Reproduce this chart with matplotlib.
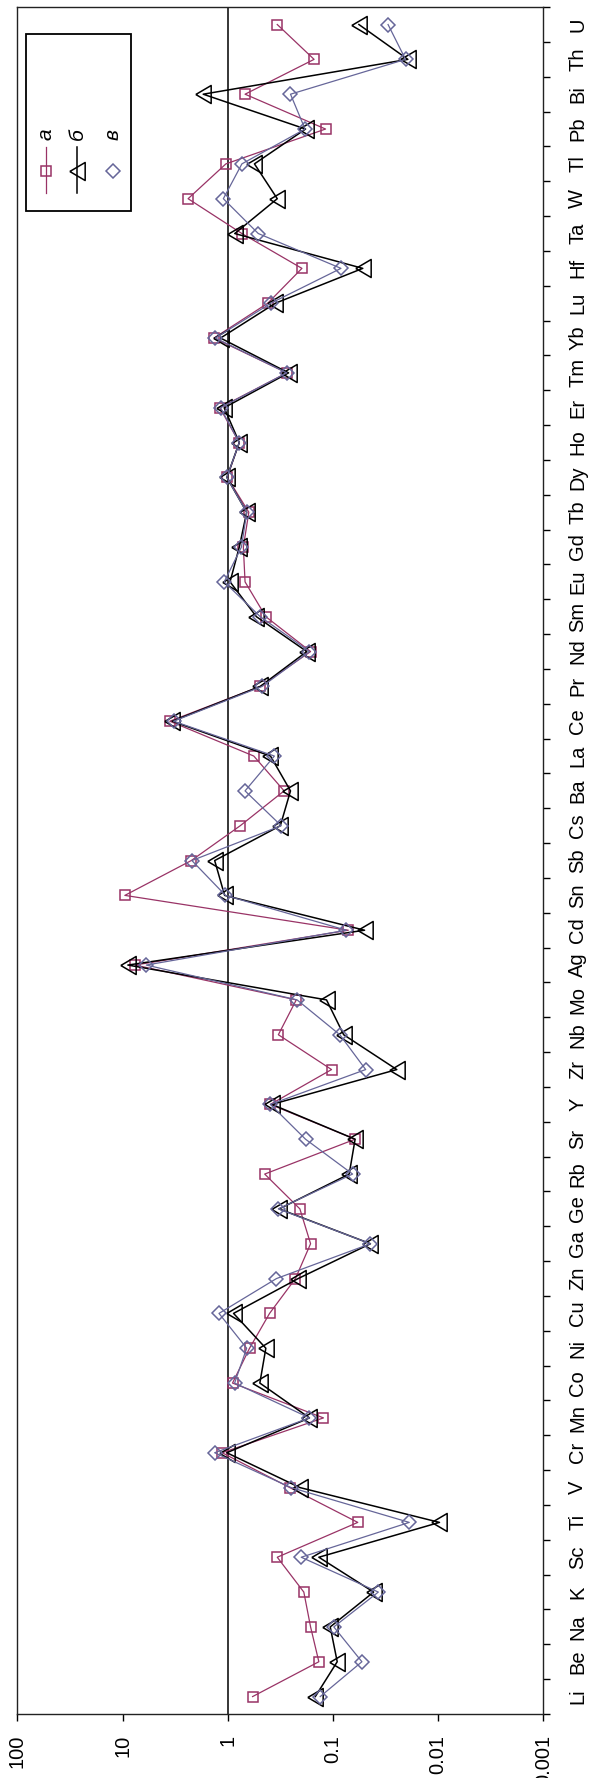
import numpy as np
import matplotlib
matplotlib.use("Agg")
from matplotlib import pyplot as plt
from matplotlib.patches import Rectangle
from matplotlib.lines import Line2D

plt.rcParams['font.family'] = ['Liberation Sans', 'DejaVu Sans']

###########################################################################
# data : normalised concentrations per element
###########################################################################

elements = ['Li','Be','Na','K','Sc','Ti','V','Cr','Mn','Co',
            'Ni','Cu','Zn','Ga','Ge','Rb','Sr','Y','Zr','Nb',
            'Mo','Ag','Cd','Sn','Sb','Cs','Ba','La','Ce','Pr',
            'Nd','Sm','Eu','Gd','Tb','Dy','Ho','Er','Tm','Yb',
            'Lu','Hf','Ta','W','Tl','Pb','Bi','Th','U']

series_a = [0.58, 0.136, 0.163, 0.189, 0.338, 0.058, 0.257, 1.13, 0.123, 0.90,
            0.62, 0.40, 0.227, 0.163, 0.206, 0.445, 0.0615, 0.393, 0.103, 0.33,
            0.223, 7.6, 0.0714, 9.5, 2.22, 0.76, 0.291, 0.565, 3.55, 0.49,
            0.163, 0.434, 0.684, 0.71, 0.63, 1.01, 0.776, 1.19, 0.274, 1.35,
            0.416, 0.197, 0.733, 2.38, 1.04, 0.1175, 0.684, 0.151, 0.338]

series_b = [0.147, 0.091, 0.106, 0.041, 0.136, 0.0097, 0.206, 1.02, 0.167, 0.495,
            0.434, 0.88, 0.214, 0.044, 0.324, 0.070, 0.0615, 0.38, 0.0247, 0.079,
            0.115, 8.9, 0.05, 1.07, 1.33, 0.316, 0.253, 0.392, 3.37, 0.49,
            0.177, 0.533, 0.95, 0.776, 0.66, 1.02, 0.776, 1.08, 0.264, 1.17,
            0.352, 0.052, 0.857, 0.338, 0.557, 0.182, 1.71, 0.0194, 0.0566]

series_c = [0.132, 0.053, 0.098, 0.037, 0.2, 0.0188, 0.25, 1.33, 0.167, 0.86,
            0.66, 1.21, 0.344, 0.044, 0.33, 0.065, 0.182, 0.393, 0.0488, 0.086,
            0.219, 5.94, 0.0745, 1.05, 2.19, 0.31, 0.684, 0.36, 3.27, 0.47,
            0.167, 0.49, 1.08, 0.74, 0.66, 1.02, 0.776, 1.17, 0.274, 1.31,
            0.389, 0.0838, 0.512, 1.1, 0.733, 0.184, 0.253, 0.0204, 0.0299]

labels = ['а', 'б', 'в']

xticks = [100, 10, 1, 0.1, 0.01, 0.001]
xtick_labels = ['100', '10', '1', '0.1', '0.01', '0.001']

###########################################################################
# styles
###########################################################################

col_a = '#993366'
col_b = '#000000'
col_c = '#666699'

# left pointing triangle, a bit narrower than tall
tri = [(-0.85, 0.0), (0.85, 1.0), (0.85, -1.0), (-0.85, 0.0)]

styles = [
    dict(color=col_a, lw=0.9, marker='s', ms=6.5, mfc='none', mec=col_a, mew=1.1),
    dict(color=col_b, lw=1.1, marker=tri, ms=13, mfc='none', mec=col_b, mew=1.1),
    dict(color=col_c, lw=0.9, marker='D', ms=7.5, mfc='none', mec=col_c, mew=1.1),
]

###########################################################################
# figure (elements along the vertical axis, log scale along the horizontal)
###########################################################################

fig = plt.figure(figsize=(5.95, 17.78), dpi=100)
ax = fig.add_axes([0.0291, 0.036, 0.8840, 0.960])

ypos = np.arange(len(elements))

ax.axvline(1, color='black', lw=1.1, zorder=1)

for vals, st in zip([series_a, series_b, series_c], styles):
    ax.plot(vals, ypos, zorder=3, **st)

ax.set_xscale('log')
ax.set_xlim(100, 0.001)
ax.set_ylim(-0.5, len(elements) - 0.5)

ax.set_xticks(xticks)
ax.set_xticklabels(xtick_labels, rotation=90, fontsize=14.5)
ax.xaxis.set_minor_locator(matplotlib.ticker.NullLocator())
ax.tick_params(axis='x', direction='out', length=5, width=1.0, pad=10)

ax.yaxis.tick_right()
ax.set_yticks(ypos)
ax.set_yticklabels(elements, rotation=90, va='center', ha='left', fontsize=14.5)
ax.set_yticks(np.arange(-0.5, len(elements)), minor=True)
ax.tick_params(axis='y', which='major', length=0, pad=18)
ax.tick_params(axis='y', which='minor', direction='out', length=5, width=1.0)

for sp in ax.spines.values():
    sp.set_linewidth(1.0)
    sp.set_color('#222222')

# legend box drawn by hand so it can be turned sideways
ax.add_patch(Rectangle((0.016, 0.8807), 0.201, 0.1033, transform=ax.transAxes,
                       fill=False, ec='black', lw=1.3, zorder=5))
leg_x = [0.054, 0.114, 0.182]
for lx, st, lab in zip(leg_x, styles, labels):
    if st['marker'] != 'D':
        ax.add_line(Line2D([lx, lx], [0.8909, 0.9181], transform=ax.transAxes,
                           color=st['color'], lw=st['lw'], zorder=6))
    ax.add_line(Line2D([lx], [0.9041], transform=ax.transAxes, ls='none',
                       marker=st['marker'], ms=st['ms'], mfc='none',
                       mec=st['mec'], mew=st['mew'], zorder=6))
    ax.text(lx, 0.9221, lab, transform=ax.transAxes, rotation=90,
            ha='center', va='bottom', fontsize=15, style='italic', zorder=6)

plt.savefig('out.png', dpi=100)
